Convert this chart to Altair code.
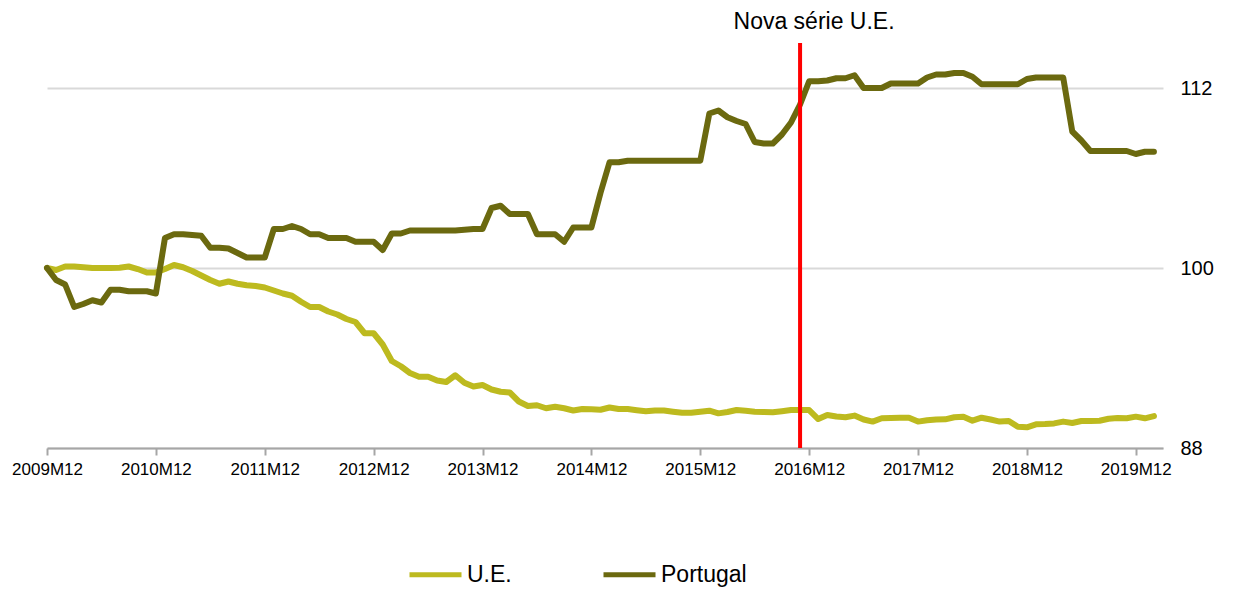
import altair as alt
import pandas as pd

# Month index 0 = 2009M12 ... 122 = 2020M02
periods = [f"{2009 + (11 + k) // 12}M{(11 + k) % 12 + 1:02d}" for k in range(123)]

ue = [100.0, 99.87, 100.1, 100.1, 100.05, 100.0, 100.0, 100.0, 100.02, 100.1,
      99.93, 99.7, 99.7, 99.93, 100.2, 100.05, 99.8, 99.5, 99.2, 98.95,
      99.1, 98.95, 98.85, 98.8, 98.7, 98.5, 98.3, 98.15, 97.75, 97.4,
      97.4, 97.1, 96.9, 96.6, 96.4, 95.65, 95.65, 94.9, 93.8, 93.45,
      93.0, 92.75, 92.75, 92.5, 92.4, 92.85, 92.35, 92.1, 92.2, 91.9,
      91.75, 91.7, 91.1, 90.8, 90.85, 90.65, 90.75, 90.65, 90.5, 90.6,
      90.58, 90.55, 90.7, 90.6, 90.6, 90.52, 90.45, 90.5, 90.5, 90.42,
      90.35, 90.35, 90.42, 90.49, 90.31, 90.4, 90.53, 90.48, 90.42, 90.4,
      90.38, 90.45, 90.53, 90.53, 90.53, 89.93, 90.2, 90.1, 90.05, 90.16,
      89.9, 89.76, 89.98, 90.0, 90.02, 90.02, 89.76, 89.85, 89.9, 89.91,
      90.05, 90.09, 89.82, 90.02, 89.9, 89.76, 89.8, 89.42, 89.38, 89.58,
      89.6, 89.64, 89.76, 89.67, 89.8, 89.8, 89.82, 89.95, 90.0, 89.98,
      90.09, 89.98, 90.13]

portugal = [100.0, 99.2, 98.9, 97.4, 97.6, 97.85, 97.7, 98.55, 98.55, 98.45,
            98.45, 98.45, 98.3, 102.0, 102.25, 102.25, 102.2, 102.15, 101.35, 101.35,
            101.3, 101.0, 100.7, 100.7, 100.7, 102.6, 102.6, 102.8, 102.6, 102.25,
            102.25, 102.0, 102.0, 102.0, 101.75, 101.75, 101.75, 101.2, 102.3, 102.3,
            102.5, 102.5, 102.5, 102.5, 102.5, 102.5, 102.55, 102.6, 102.6, 104.0,
            104.15, 103.6, 103.6, 103.6, 102.25, 102.25, 102.25, 101.75, 102.7, 102.7,
            102.7, 105.0, 107.05, 107.05, 107.15, 107.15, 107.15, 107.15, 107.15, 107.15,
            107.15, 107.15, 107.15, 110.3, 110.5, 110.05, 109.8, 109.6, 108.4, 108.3,
            108.3, 108.9, 109.7, 110.9, 112.45, 112.45, 112.5, 112.65, 112.65, 112.85,
            112.0, 112.0, 112.0, 112.3, 112.3, 112.3, 112.3, 112.7, 112.9, 112.9,
            113.0, 113.0, 112.75, 112.25, 112.25, 112.25, 112.25, 112.25, 112.6, 112.7,
            112.7, 112.7, 112.7, 109.1, 108.5, 107.8, 107.8, 107.8, 107.8, 107.8,
            107.6, 107.75, 107.75]

series_names = ["U.E.", "Portugal"]
series_colors = ["#BDBA1F", "#6B690F"]
y_ticks = [88, 100, 112]
x_tick_months = [0, 12, 24, 36, 48, 60, 72, 84, 96, 108, 120]
break_month = ["2016M11"]
break_label = ["Nova série U.E."]

rows = []
for i, p in enumerate(periods):
    rows.append({"t": i, "period": p, "serie": "U.E.", "v": ue[i]})
for i, p in enumerate(periods):
    rows.append({"t": i, "period": p, "serie": "Portugal", "v": portugal[i]})
df = pd.DataFrame(rows)

ann = pd.DataFrame({"t": [periods.index(m) for m in break_month],
                    "label": break_label, "v": [115]})

FONT = "Liberation Sans"

x_enc = alt.X("t:Q", scale=alt.Scale(domain=[0, 123], nice=False, zero=False),
              axis=alt.Axis(values=x_tick_months, title=None, grid=False,
                            labelExpr="toString(2009 + datum.value / 12) + 'M12'",
                            labelFontSize=17, labelFont=FONT, labelColor="#000000",
                            labelPadding=6, labelFlush=False, labelOverlap=False,
                            domainColor="#A6A6A6", domainWidth=2,
                            tickColor="#A6A6A6", tickWidth=2, tickSize=7))
y_enc = alt.Y("v:Q", scale=alt.Scale(domain=[88, 115], nice=False, zero=False),
              axis=alt.Axis(values=y_ticks, orient="right", title=None,
                            grid=True, gridColor="#D9D9D9", gridWidth=2,
                            domain=False, ticks=False, labelPadding=17,
                            labelFontSize=20, labelFont=FONT, labelColor="#000000"))

color = alt.Color("serie:N",
                  scale=alt.Scale(domain=series_names, range=series_colors),
                  legend=alt.Legend(title=None, orient="none", legendX=360, legendY=503,
                                    direction="horizontal", symbolType="stroke",
                                    symbolSize=2704, symbolStrokeWidth=5,
                                    labelFontSize=23, labelFont=FONT, labelColor="#000000",
                                    labelOffset=3, columnPadding=81))

base = alt.Chart(df)
line_ue = base.transform_filter(alt.datum.serie == "U.E.").mark_line(
    strokeWidth=6, strokeCap="round", strokeJoin="round").encode(x=x_enc, y=y_enc, color=color)
line_pt = base.transform_filter(alt.datum.serie == "Portugal").mark_line(
    strokeWidth=6, strokeCap="round", strokeJoin="round").encode(x=x_enc, y=y_enc, color=color)

rule = alt.Chart(ann).mark_rule(color="#FF0000", strokeWidth=4).encode(x="t:Q")
text = alt.Chart(ann).mark_text(font=FONT, fontSize=23, color="#000000",
                                dx=14, dy=-21, align="center", baseline="middle").encode(
    x="t:Q", y="v:Q", text="label:N")

chart = alt.layer(line_ue, line_pt, rule, text).properties(
    width=1116, height=405,
    autosize=alt.AutoSizeParams(type="none"),
    padding={"left": 39, "top": 35, "right": 60, "bottom": 143},
).configure_view(stroke=None)

chart.save("out.html", embed_options={"renderer": "svg", "actions": False})
